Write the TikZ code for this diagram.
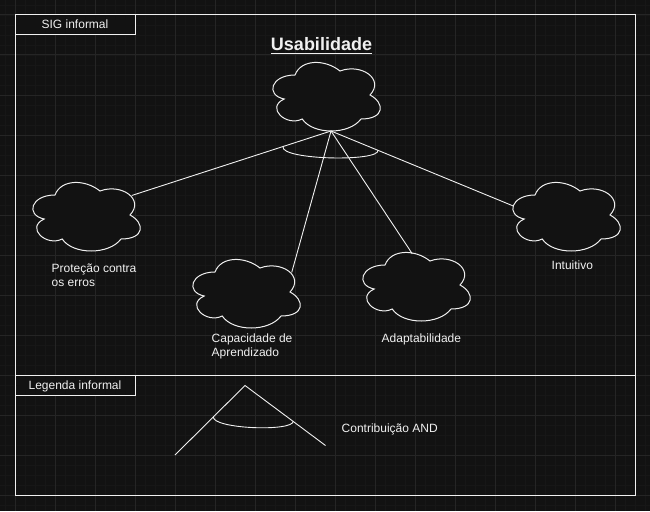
\documentclass[tikz,border=0pt]{standalone}
\usepackage{fontspec}
\setmainfont{Liberation Sans}
\definecolor{bgc}{HTML}{121212}
\definecolor{gridmaj}{HTML}{252525}
\definecolor{gridmin}{HTML}{171717}
\definecolor{ink}{HTML}{F0F0F0}
\newcommand{\twolines}[2]{\vtop{\hbox{#1}\hbox{#2}}}
\begin{document}
\begin{tikzpicture}[x=1pt,y=-1pt,
  frame/.style={draw=ink,line width=1pt},
  tagbox/.style={draw=ink,fill=bgc,line width=1pt},
  conn/.style={draw=ink,line width=0.9pt},
  andarc/.style={draw=ink,line width=0.9pt},
  lbl/.style={text=ink,font=\fontsize{12}{14}\selectfont,inner sep=0pt,anchor=base west},
  tagtxt/.style={text=ink,font=\fontsize{12}{14}\selectfont,inner sep=0pt,anchor=base},
  titletxt/.style={text=ink,font=\fontsize{18}{21}\selectfont\bfseries,inner sep=0pt,anchor=base},
  dcloud/.pic={
    \draw[draw=ink,fill=bgc,line width=1pt]
      (30,20) .. controls (6,20) and (0,40) .. (19.2,44)
      .. controls (0,52.8) and (21.6,72) .. (37.2,64)
      .. controls (48,80) and (84,80) .. (96,64)
      .. controls (120,64) and (120,48) .. (105,40)
      .. controls (120,24) and (96,8) .. (75,16)
      .. controls (60,4) and (36,4) .. (30,20) -- cycle;
    \coordinate (-bot) at (66,76);
    \coordinate (-ur) at (106.7,20.5);
    \coordinate (-top) at (57.3,8.8);
    \coordinate (-lft) at (8.3,31);
  }]
\useasboundingbox (0,0) rectangle (650,511);
\fill[bgc] (0,0) rectangle (650,511);
% grid
\foreach \i in {5,15,...,645} \draw[gridmin,line width=0.8pt] (\i,0) -- (\i,511);
\foreach \j in {5,15,...,505} \draw[gridmin,line width=0.8pt] (0,\j) -- (650,\j);
\foreach \i in {15,55,...,655} \draw[gridmaj,line width=1pt] (\i,0) -- (\i,511);
\foreach \j in {15,55,...,511} \draw[gridmaj,line width=1pt] (0,\j) -- (650,\j);
% frames
\draw[frame] (15,15) rectangle (635,375);
\draw[frame] (15,375) rectangle (635,495);
\draw[tagbox] (15,15) rectangle (135,35);
\draw[tagbox] (15,375) rectangle (135,395);
\node[tagtxt] (sigtag) at (75,29) {SIG informal};
\node[tagtxt] (legtag) at (75,389) {Legenda informal};
% title
\node[titletxt] (title) at (321.5,51) {Usabilidade};
\draw[ink,line width=1.3pt] (271,53.2) -- (372,53.2);
% clouds
\pic (topc) at (265,55) {dcloud};
\pic (protc) at (25,175) {dcloud};
\pic (capc) at (185,252) {dcloud};
\pic (adac) at (355,245) {dcloud};
\pic (intc) at (505,175) {dcloud};
% connectors
\draw[conn] (topc-bot) -- (protc-ur);
\draw[conn] (topc-bot) -- (capc-ur);
\draw[conn] (topc-bot) -- (adac-top);
\draw[conn] (topc-bot) -- (intc-lft);
\draw[andarc] (283,146.8) .. controls (281,160) and (380,162) .. (378,150.2);
% labels
\node[lbl] (prot) at (51.5,272.7) {\twolines{Proteção contra}{os erros}};
\node[lbl] (cap) at (211.5,342.6) {\twolines{Capacidade de}{Aprendizado}};
\node[lbl] (ada) at (381.5,342.6) {Adaptabilidade};
\node[lbl] (int) at (551.5,269.4) {Intuitivo};
% legend
\coordinate (la) at (175,455);
\coordinate (lapex) at (245,385.5);
\coordinate (lb) at (325.5,445.5);
\draw[conn] (la) -- (lapex) -- (lb);
\draw[andarc] (213.3,416.7) .. controls (212,429) and (294,432) .. (293.3,421);
\node[lbl] (andtxt) at (341.5,432.7) {Contribuição AND};
\end{tikzpicture}
\end{document}
